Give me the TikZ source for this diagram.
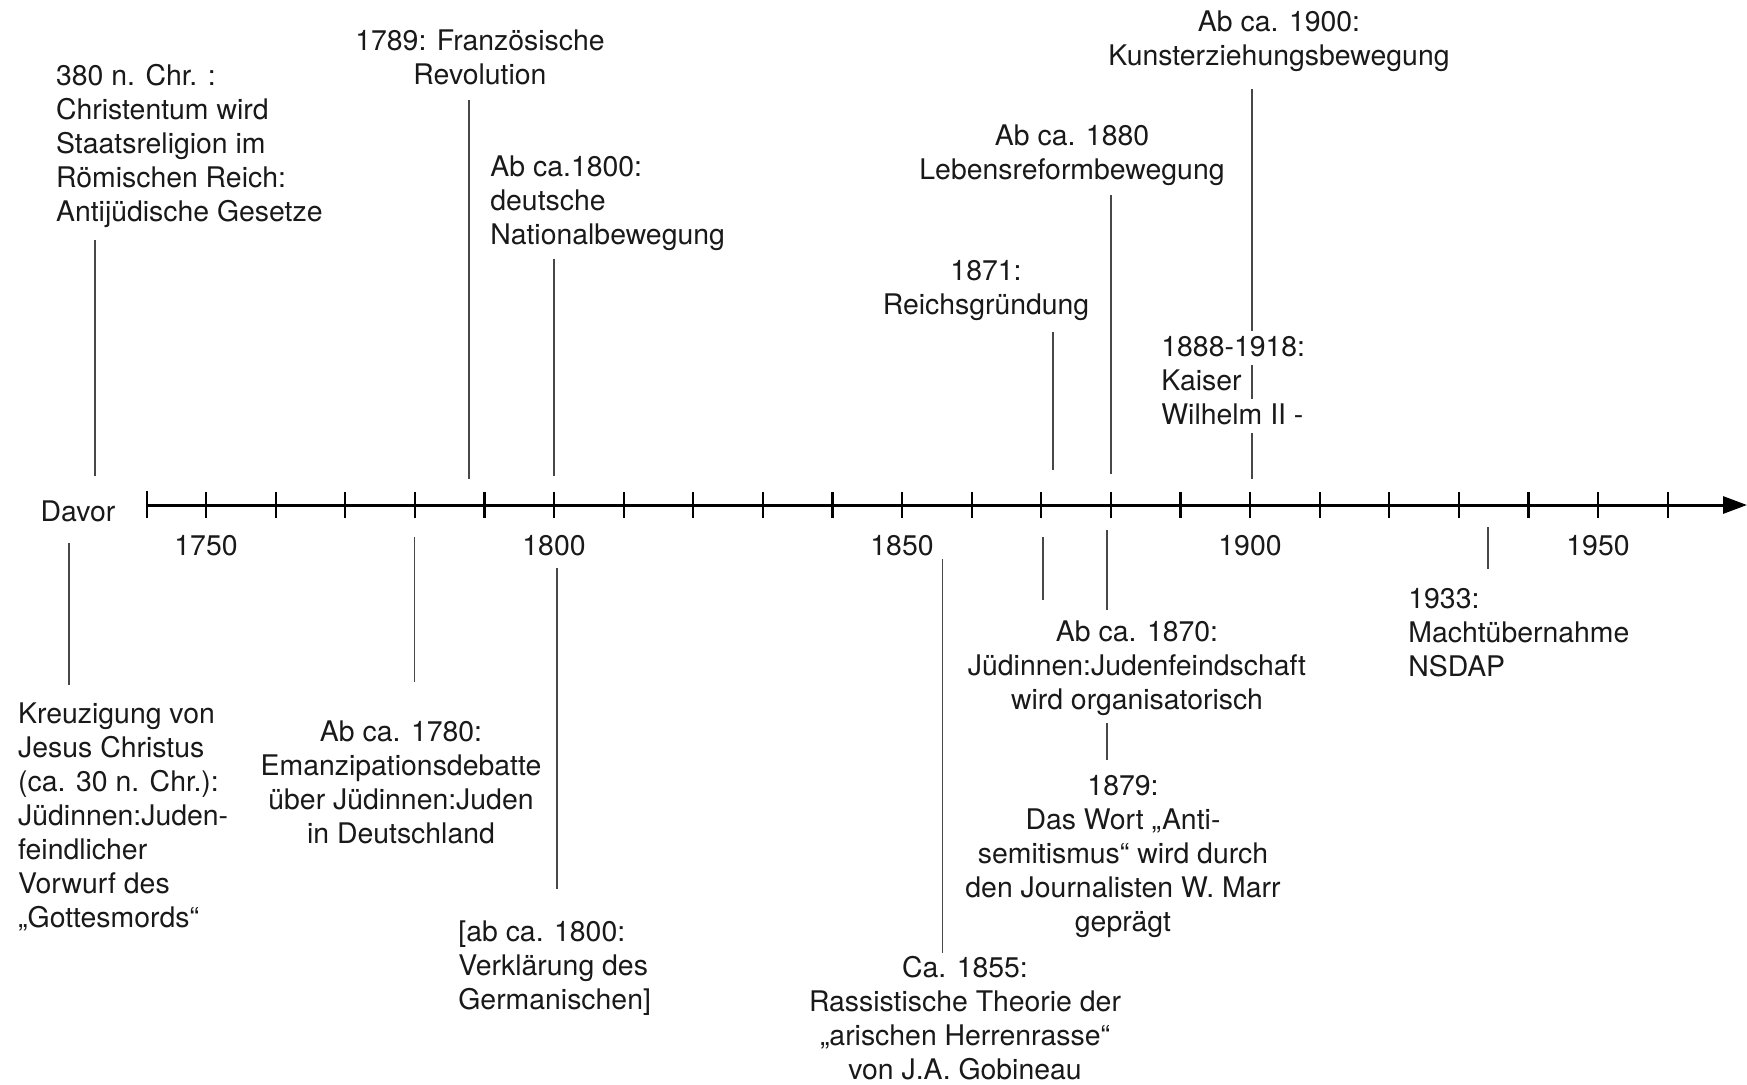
\documentclass[tikz,border=0pt]{standalone}
\usepackage{fontspec}
\setmainfont{TeX Gyre Heros}
\usetikzlibrary{arrows.meta}
\tikzset{
  txt/.style={inner sep=0pt, text=black!90, font=\fontsize{14.2}{17}\selectfont, yshift=-1.3pt},
  lbl/.style={txt, align=left, anchor=west},
  cbl/.style={txt, align=center},
  conn/.style={draw=black!72, line width=0.8pt},
  axisline/.style={draw=black, line width=1.5pt, -{Triangle[length=12pt,width=8.5pt]}},
  tickmark/.style={draw=black, line width=1.1pt},
  rowbox/.style={txt, anchor=west, fill=white, inner xsep=0pt, inner ysep=2pt, text height=10.5pt, text depth=2.5pt}
}
\begin{document}
\begin{tikzpicture}[x=0.5pt,y=-0.5pt]
\useasboundingbox (0,0) rectangle (1747,1084);
% axis
\coordinate (axL) at (147,505);
\coordinate (axR) at (1747,505);
\draw[axisline] (axL) -- (axR);
\draw[tickmark, line width=1.4pt] (147,491) -- (147,518);
\foreach \yr in {1750,1760,...,1960}{
  \draw[tickmark] ({206+(\yr-1750)*6.96},492) -- ({206+(\yr-1750)*6.96},518);
}
\node[txt] (davor) at (78,509) {Davor};
\foreach \yr/\nm in {1750/ya,1800/yb,1850/yc,1900/yd,1950/ye}{
  \node[txt] (\nm) at ({206+(\yr-1750)*6.96},542.6) {\yr};
}
% top events
\node[lbl] (n380) at (55.7,143.7) {380 n. Chr. :\\Christentum wird\\Staatsreligion im\\Römischen Reich:\\Antijüdische Gesetze};
\node[cbl] (n1789) at (480,55) {1789: Französische\\Revolution};
\node[lbl] (n1800a) at (490,201) {Ab ca.1800:\\deutsche\\Nationalbewegung};
\node[cbl] (n1871) at (986,288) {1871:\\Reichsgründung};
\node[cbl] (n1880) at (1072,152.6) {Ab ca. 1880\\Lebensreformbewegung};
\node[cbl] (n1900) at (1279,38.4) {Ab ca. 1900:\\Kunsterziehungsbewegung};
\coordinate (c380a) at (94.7,239.5);  \coordinate (c380b) at (94.7,476);
\coordinate (c1789a) at (469,100);    \coordinate (c1789b) at (469,479);
\coordinate (c1800a) at (554,258.5);  \coordinate (c1800b) at (554,476);
\coordinate (c1871a) at (1053,332);   \coordinate (c1871b) at (1053,470);
\coordinate (c1880a) at (1111,195);   \coordinate (c1880b) at (1111,473.5);
\coordinate (c1900a) at (1252,89);    \coordinate (c1900b) at (1252,479);
\draw[conn] (c380a) -- (c380b);
\draw[conn] (c1789a) -- (c1789b);
\draw[conn] (c1800a) -- (c1800b);
\draw[conn] (c1871a) -- (c1871b);
\draw[conn] (c1880a) -- (c1880b);
\draw[conn] (c1900a) -- (c1900b);
\node[rowbox] (w1) at (1161,345.4) {1888-1918:};
\node[rowbox] (w2) at (1161,380) {Kaiser};
\node[rowbox] (w3) at (1161,413.4) {Wilhelm II -};
% bottom events
\node[lbl] (nkreuz) at (17.8,814.5) {Kreuzigung von\\Jesus Christus\\(ca. 30 n. Chr.):\\Jüdinnen:Juden-\\feindlicher\\Vorwurf des\\„Gottesmords“};
\node[cbl] (n1780) at (401,780) {Ab ca. 1780:\\Emanzipationsdebatte\\über Jüdinnen:Juden\\in Deutschland};
\node[lbl] (n1800b) at (458,965.5) {[ab ca. 1800:\\Verklärung des\\Germanischen]};
\node[cbl] (n1855) at (965,1015.5) {Ca. 1855:\\Rassistische Theorie der\\„arischen Herrenrasse“\\von J.A. Gobineau};
\node[cbl] (n1870) at (1137,666) {Ab ca. 1870:\\Jüdinnen:Judenfeindschaft\\wird organisatorisch};
\node[cbl] (n1879) at (1123,853.5) {1879:\\Das Wort „Anti-\\semitismus“ wird durch\\den Journalisten W. Marr\\geprägt};
\node[lbl] (n1933) at (1408,630) {1933:\\Machtübernahme\\NSDAP};
\coordinate (ckra) at (69,542.6);     \coordinate (ckrb) at (69,685);
\coordinate (c1780a) at (414.5,537);  \coordinate (c1780b) at (414.5,682);
\coordinate (c1800c) at (557,568);    \coordinate (c1800d) at (557,889);
\coordinate (c1855a) at (942.6,559);  \coordinate (c1855b) at (942.6,952.6);
\coordinate (c1870a) at (1043,537);   \coordinate (c1870b) at (1043,600);
\coordinate (c1870c) at (1107,530);   \coordinate (c1870d) at (1107,610);
\coordinate (c1879a) at (1107,723);   \coordinate (c1879b) at (1107,760);
\coordinate (c1933a) at (1488,527);   \coordinate (c1933b) at (1488,569);
\draw[conn] (ckra) -- (ckrb);
\draw[conn] (c1780a) -- (c1780b);
\draw[conn] (c1800c) -- (c1800d);
\draw[conn] (c1855a) -- (c1855b);
\draw[conn] (c1870a) -- (c1870b);
\draw[conn] (c1870c) -- (c1870d);
\draw[conn] (c1879a) -- (c1879b);
\draw[conn] (c1933a) -- (c1933b);
\end{tikzpicture}
\end{document}
